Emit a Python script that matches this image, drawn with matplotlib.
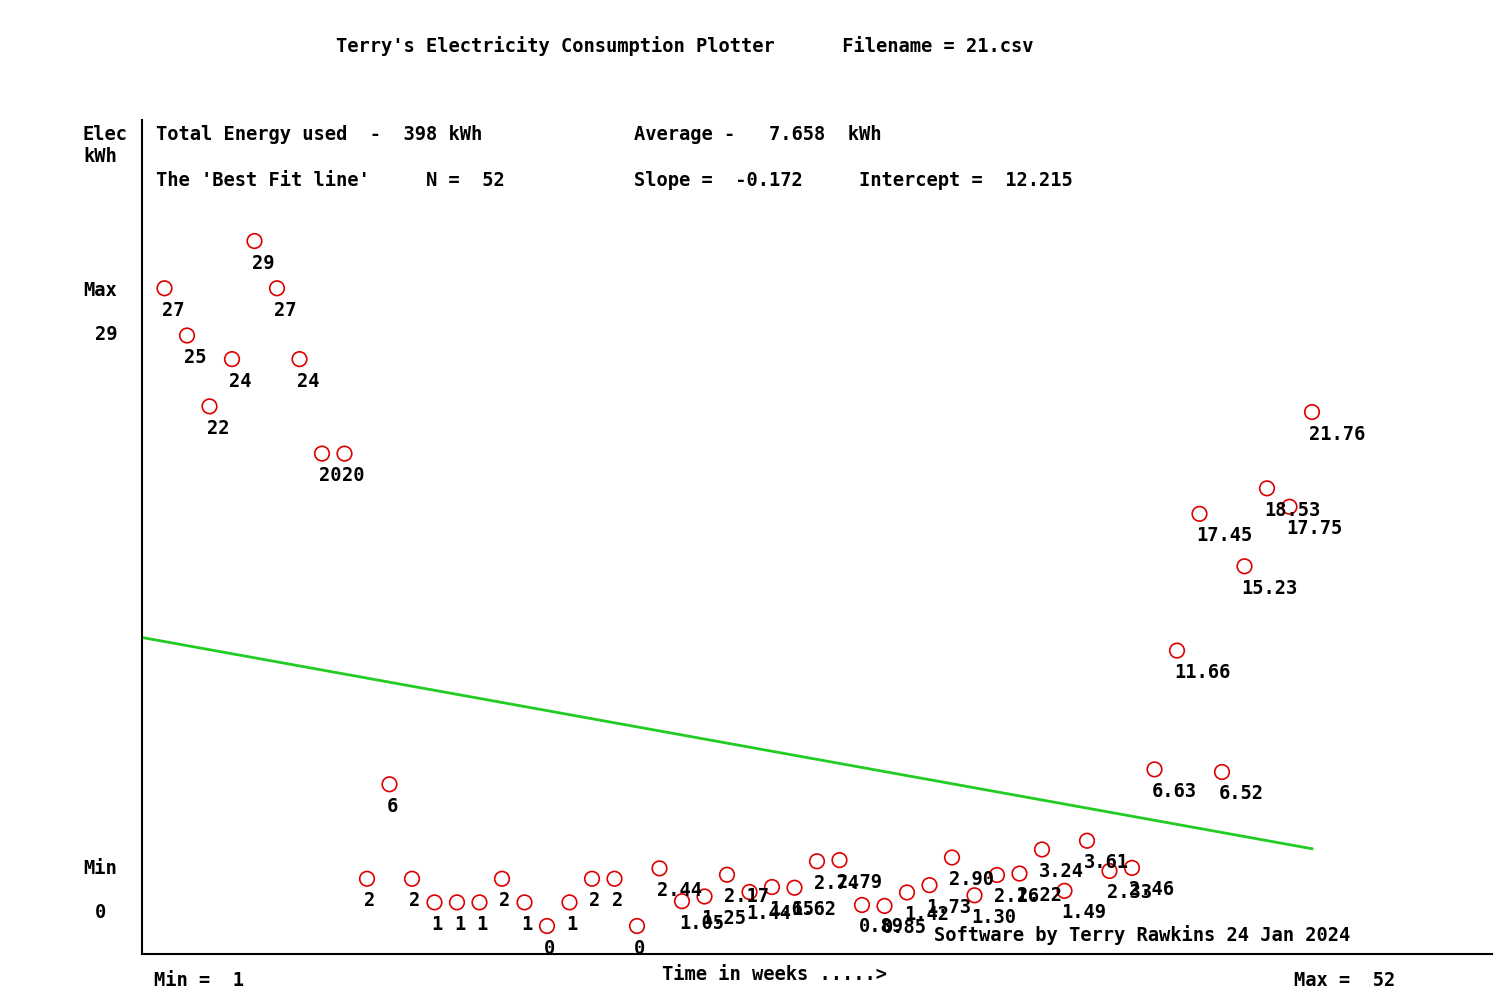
import numpy as np
import matplotlib.pyplot as plt

weeks = np.arange(1, 53)
kwh = [27, 25, 22, 24, 29, 27, 24, 20, 20, 2, 6, 2, 1, 1, 1, 2, 1, 0, 1, 2, 2, 0,
       2.44, 1.05, 1.25, 2.17, 1.44, 1.65, 1.62, 2.74, 2.79, 0.89, 0.85, 1.42, 1.73, 2.9,
       1.3, 2.16, 2.22, 3.24, 1.49, 3.61, 2.33, 2.46, 6.63, 11.66, 17.45, 6.52, 15.23,
       18.53, 17.75, 21.76]
slope = -0.172
intercept = 12.215

W, H = 1505, 1008
fig = plt.figure(figsize=(W / 100, H / 100), dpi=100)
L, R, T, B = 142, 1492, 120, 954
ax = fig.add_axes([L / W, 1 - B / H, (R - L) / W, (B - T) / H])
ax.set_xlim(0, (R - L) / 22.5)
ax.set_ylim((926 - B) / 23.62, (926 - T) / 23.62)
for s in ['top', 'right']:
    ax.spines[s].set_visible(False)
for s in ['left', 'bottom']:
    ax.spines[s].set_linewidth(1.5)
ax.set_xticks([])
ax.set_yticks([])

fx = np.array([0, 52])
ax.plot(fx, intercept + slope * fx, color='#22cc22', lw=2)
ax.scatter(weeks, kwh, s=110, facecolors='none', edgecolors='#dd0000', lw=1.2, zorder=3)

mono = dict(family='DejaVu Sans Mono', fontweight='bold', fontsize=13.5)
for w, v in zip(weeks, kwh):
    lab = str(int(v)) if float(v).is_integer() else f"{v:.2f}"
    ax.annotate(lab, (w, v), xytext=(-2, -9), textcoords='offset points',
                va='top', ha='left', **mono)

def ftext(x, y, s, **kw):
    fig.text(x / W, 1 - y / H, s, va='center', ha='left', **{**mono, **kw})

ftext(336, 46, "Terry's Electricity Consumption Plotter      Filename = 21.csv")
ftext(156, 135, "Total Energy used  -  398 kWh")
ftext(634, 135, "Average -   7.658  kWh")
ftext(156, 180, "The 'Best Fit line'     N =  52")
ftext(634, 180, "Slope =  -0.172     Intercept =  12.215")
ftext(83, 135, "Elec")
ftext(83, 157, "kWh")
ftext(83, 291, "Max")
ftext(95, 335, "29")
ftext(83, 869, "Min")
ftext(95, 913, "0")
ftext(934, 935, "Software by Terry Rawkins 24 Jan 2024")
ftext(154, 980, "Min =  1")
ftext(662, 975, "Time in weeks .....>")
ftext(1294, 980, "Max =  52")

fig.savefig('out.png', dpi=100)
